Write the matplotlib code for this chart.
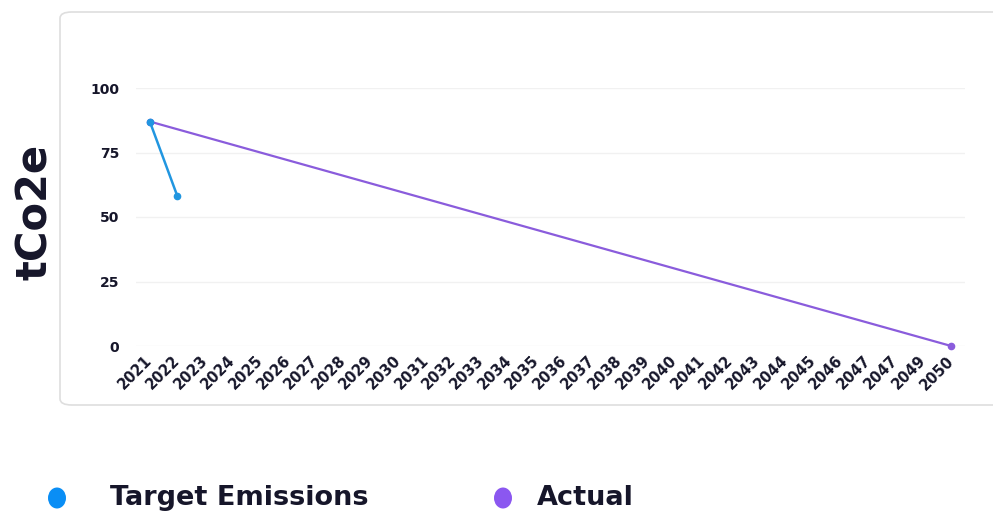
import numpy as np
import matplotlib.pyplot as plt
from matplotlib.patches import FancyBboxPatch, Ellipse

# donnees
years = ['2021', '2022', '2023', '2024', '2025', '2026', '2027', '2028', '2029', '2030',
         '2031', '2032', '2033', '2034', '2035', '2036', '2037', '2038', '2039', '2040',
         '2041', '2042', '2043', '2044', '2045', '2046', '2047', '2047', '2049', '2050']
target = [87, 58]                      # Target Emissions (2021, 2022)
actual_idx = [0, 29]                   # Actual : seulement 2021 et 2050
actual = [87, 0]
yticks = [0, 25, 50, 75, 100]

blue = '#2196e0'
purple = '#8a5cdc'
dark = '#16162a'

plt.rcParams['font.family'] = ['DejaVu Sans']

W, H = 993, 516
fig = plt.figure(figsize=(W / 100, H / 100), dpi=100)

# cadre arrondi de la carte
card = FancyBboxPatch((60 / W, 1 - 405 / H), 960 / W, 393 / H,
                      boxstyle='round,pad=0,rounding_size=0.012',
                      transform=fig.transFigure, facecolor='white',
                      edgecolor='#dedede', linewidth=1.2, zorder=-5)
fig.add_artist(card)

ax = fig.add_axes([136 / W, 1 - 346 / H, (965 - 136) / W, (346 - 88) / H])
ax.set_zorder(2)
ax.set_facecolor('none')
x = np.arange(len(years))

ax.plot(actual_idx, actual, color=purple, lw=1.6, marker='o', ms=4.5, clip_on=False, zorder=2)
ax.plot(x[:len(target)], target, color=blue, lw=1.8, marker='o', ms=4.5, clip_on=False, zorder=3)

ax.set_xlim(-0.5, len(years) - 0.5)
ax.set_ylim(0, 100)
ax.set_yticks(yticks)
ax.set_yticklabels([str(v) for v in yticks], fontsize=10, fontweight='bold', color=dark)
ax.set_xticks(x)
ax.set_xticklabels(years, fontsize=10.5, fontweight='bold', color=dark,
                   rotation=45, ha='right', va='center', rotation_mode='anchor')
ax.tick_params(axis='y', length=0, pad=12)
ax.tick_params(axis='x', length=0, pad=9)
ax.grid(axis='y', color='#f1f1f1', lw=1)
ax.set_axisbelow(True)
for s in ax.spines.values():
    s.set_visible(False)

fig.text(35 / W, 1 - 212 / H, 'tCo2e', rotation=90, fontsize=30, fontweight='bold',
         color=dark, ha='center', va='center')

# legende
for cx, col, lab, tx in [(57, '#0a8ef5', 'Target Emissions', 110), (503, '#8b57f0', 'Actual', 537)]:
    fig.add_artist(Ellipse((cx / W, 1 - 498 / H), 18 / W, 21 / H, transform=fig.transFigure,
                           facecolor=col, edgecolor='none'))
    fig.text(tx / W, 1 - 498 / H, lab, fontsize=19.5, fontweight='bold', color=dark,
             ha='left', va='center')

fig.savefig('out.png', dpi=100)
